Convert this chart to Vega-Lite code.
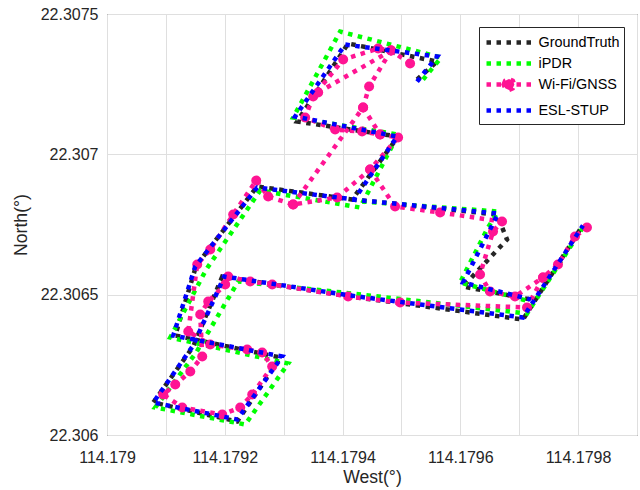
{
  "$schema": "https://vega.github.io/schema/vega-lite/v6.json",
  "width": 530,
  "height": 421,
  "padding": {"left": 107, "top": 14, "right": 3, "bottom": 55},
  "autosize": {"type": "none"},
  "background": "white",
  "config": {
    "view": {"stroke": "#262626", "strokeWidth": 1},
    "font": "Liberation Sans",
    "axis": {"labelFont": "Liberation Sans", "titleFont": "Liberation Sans", "labelColor": "#262626", "titleColor": "#262626", "titleFontWeight": "normal", "gridColor": "#dfdfdf", "ticks": false, "domain": false}
  },
  "data": {"values": [
    {"s":"GroundTruth","g":1,"i":1,"lon":114.1795266,"lat":22.3072665},
    {"s":"GroundTruth","g":1,"i":2,"lon":114.1795605,"lat":22.3073306},
    {"s":"GroundTruth","g":1,"i":3,"lon":114.1794095,"lat":22.3073947},
    {"s":"GroundTruth","g":1,"i":4,"lon":114.1793229,"lat":22.3071168},
    {"s":"GroundTruth","g":1,"i":5,"lon":114.1794943,"lat":22.3070634},
    {"s":"GroundTruth","g":1,"i":6,"lon":114.1794163,"lat":22.3068390},
    {"s":"GroundTruth","g":1,"i":7,"lon":114.1792550,"lat":22.3068853},
    {"s":"GroundTruth","g":1,"i":8,"lon":114.1791515,"lat":22.3066038},
    {"s":"GroundTruth","g":1,"i":9,"lon":114.1791159,"lat":22.3063545},
    {"s":"GroundTruth","g":1,"i":10,"lon":114.1792941,"lat":22.3062761},
    {"s":"GroundTruth","g":1,"i":11,"lon":114.1792211,"lat":22.3060481},
    {"s":"GroundTruth","g":1,"i":12,"lon":114.1790786,"lat":22.3061158},
    {"s":"GroundTruth","g":1,"i":13,"lon":114.1791464,"lat":22.3063153},
    {"s":"GroundTruth","g":1,"i":14,"lon":114.1791957,"lat":22.3065647},
    {"s":"GroundTruth","g":1,"i":15,"lon":114.1794129,"lat":22.3064934},
    {"s":"GroundTruth","g":1,"i":16,"lon":114.1797064,"lat":22.3064115},
    {"s":"GroundTruth","g":1,"i":17,"lon":114.1798065,"lat":22.3067428},
    {"s":"GroundTruth","g":2,"i":1,"lon":114.1794163,"lat":22.3068390},
    {"s":"GroundTruth","g":2,"i":2,"lon":114.1796623,"lat":22.3067855},
    {"s":"GroundTruth","g":2,"i":3,"lon":114.1796793,"lat":22.3066965},
    {"s":"GroundTruth","g":2,"i":4,"lon":114.1796046,"lat":22.3065290},
    {"s":"GroundTruth","g":2,"i":5,"lon":114.1797200,"lat":22.3064827},

    {"s":"iPDR","g":1,"i":1,"lon":114.1795367,"lat":22.3072665},
    {"s":"iPDR","g":1,"i":2,"lon":114.1795673,"lat":22.3073448},
    {"s":"iPDR","g":1,"i":3,"lon":114.1793959,"lat":22.3074375},
    {"s":"iPDR","g":1,"i":4,"lon":114.1793161,"lat":22.3071311},
    {"s":"iPDR","g":1,"i":5,"lon":114.1794943,"lat":22.3070705},
    {"s":"iPDR","g":1,"i":6,"lon":114.1794298,"lat":22.3068105},
    {"s":"iPDR","g":1,"i":7,"lon":114.1792601,"lat":22.3068710},
    {"s":"iPDR","g":1,"i":8,"lon":114.1791685,"lat":22.3065896},
    {"s":"iPDR","g":1,"i":9,"lon":114.1791074,"lat":22.3063473},
    {"s":"iPDR","g":1,"i":10,"lon":114.1793077,"lat":22.3062547},
    {"s":"iPDR","g":1,"i":11,"lon":114.1792347,"lat":22.3060374},
    {"s":"iPDR","g":1,"i":12,"lon":114.1790820,"lat":22.3060980},
    {"s":"iPDR","g":1,"i":13,"lon":114.1791515,"lat":22.3062939},
    {"s":"iPDR","g":1,"i":14,"lon":114.1792228,"lat":22.3065468},
    {"s":"iPDR","g":1,"i":15,"lon":114.1794163,"lat":22.3065041},
    {"s":"iPDR","g":1,"i":16,"lon":114.1797132,"lat":22.3064328},
    {"s":"iPDR","g":1,"i":17,"lon":114.1798116,"lat":22.3067499},
    {"s":"iPDR","g":2,"i":1,"lon":114.1794332,"lat":22.3068318},
    {"s":"iPDR","g":2,"i":2,"lon":114.1796640,"lat":22.3067962},
    {"s":"iPDR","g":2,"i":3,"lon":114.1796470,"lat":22.3067392},
    {"s":"iPDR","g":2,"i":4,"lon":114.1795995,"lat":22.3065433},
    {"s":"iPDR","g":2,"i":5,"lon":114.1797183,"lat":22.3064756},

    {"s":"Wi-Fi/GNSS","g":1,"i":1,"lon":114.1795147,"lat":22.3073235},
    {"s":"Wi-Fi/GNSS","g":1,"i":2,"lon":114.1794824,"lat":22.3073698},
    {"s":"Wi-Fi/GNSS","g":1,"i":3,"lon":114.1794604,"lat":22.3073769},
    {"s":"Wi-Fi/GNSS","g":1,"i":4,"lon":114.1794010,"lat":22.3073377},
    {"s":"Wi-Fi/GNSS","g":1,"i":5,"lon":114.1793501,"lat":22.3072059},
    {"s":"Wi-Fi/GNSS","g":1,"i":6,"lon":114.1793365,"lat":22.3071311},
    {"s":"Wi-Fi/GNSS","g":1,"i":7,"lon":114.1793874,"lat":22.3070883},
    {"s":"Wi-Fi/GNSS","g":1,"i":8,"lon":114.1794332,"lat":22.3070812},
    {"s":"Wi-Fi/GNSS","g":1,"i":9,"lon":114.1794638,"lat":22.3070705},
    {"s":"Wi-Fi/GNSS","g":1,"i":10,"lon":114.1794943,"lat":22.3070598},
    {"s":"Wi-Fi/GNSS","g":1,"i":11,"lon":114.1794468,"lat":22.3069458},
    {"s":"Wi-Fi/GNSS","g":1,"i":12,"lon":114.1793908,"lat":22.3068461},
    {"s":"Wi-Fi/GNSS","g":1,"i":13,"lon":114.1793161,"lat":22.3068212},
    {"s":"Wi-Fi/GNSS","g":1,"i":14,"lon":114.1792737,"lat":22.3068497},
    {"s":"Wi-Fi/GNSS","g":1,"i":15,"lon":114.1792534,"lat":22.3069067},
    {"s":"Wi-Fi/GNSS","g":1,"i":16,"lon":114.1792143,"lat":22.3067855},
    {"s":"Wi-Fi/GNSS","g":1,"i":17,"lon":114.1791753,"lat":22.3066608},
    {"s":"Wi-Fi/GNSS","g":1,"i":18,"lon":114.1791532,"lat":22.3066074},
    {"s":"Wi-Fi/GNSS","g":1,"i":19,"lon":114.1791380,"lat":22.3063687},
    {"s":"Wi-Fi/GNSS","g":1,"i":20,"lon":114.1791753,"lat":22.3063224},
    {"s":"Wi-Fi/GNSS","g":1,"i":21,"lon":114.1792381,"lat":22.3063046},
    {"s":"Wi-Fi/GNSS","g":1,"i":22,"lon":114.1792635,"lat":22.3062939},
    {"s":"Wi-Fi/GNSS","g":1,"i":23,"lon":114.1792805,"lat":22.3062440},
    {"s":"Wi-Fi/GNSS","g":1,"i":24,"lon":114.1792466,"lat":22.3061443},
    {"s":"Wi-Fi/GNSS","g":1,"i":25,"lon":114.1792262,"lat":22.3060980},
    {"s":"Wi-Fi/GNSS","g":1,"i":26,"lon":114.1791957,"lat":22.3060730},
    {"s":"Wi-Fi/GNSS","g":1,"i":27,"lon":114.1791278,"lat":22.3060980},
    {"s":"Wi-Fi/GNSS","g":1,"i":28,"lon":114.1790955,"lat":22.3061443},
    {"s":"Wi-Fi/GNSS","g":1,"i":29,"lon":114.1791159,"lat":22.3061799},
    {"s":"Wi-Fi/GNSS","g":1,"i":30,"lon":114.1791414,"lat":22.3062262},
    {"s":"Wi-Fi/GNSS","g":1,"i":31,"lon":114.1791617,"lat":22.3062797},
    {"s":"Wi-Fi/GNSS","g":1,"i":32,"lon":114.1791583,"lat":22.3064293},
    {"s":"Wi-Fi/GNSS","g":1,"i":33,"lon":114.1791719,"lat":22.3064756},
    {"s":"Wi-Fi/GNSS","g":1,"i":34,"lon":114.1792007,"lat":22.3065362},
    {"s":"Wi-Fi/GNSS","g":1,"i":35,"lon":114.1792058,"lat":22.3065647},
    {"s":"Wi-Fi/GNSS","g":1,"i":36,"lon":114.1792432,"lat":22.3065468},
    {"s":"Wi-Fi/GNSS","g":1,"i":37,"lon":114.1792805,"lat":22.3065362},
    {"s":"Wi-Fi/GNSS","g":1,"i":38,"lon":114.1794095,"lat":22.3064934},
    {"s":"Wi-Fi/GNSS","g":1,"i":39,"lon":114.1794977,"lat":22.3064720},
    {"s":"Wi-Fi/GNSS","g":1,"i":40,"lon":114.1797132,"lat":22.3064542},
    {"s":"Wi-Fi/GNSS","g":1,"i":41,"lon":114.1797404,"lat":22.3065611},
    {"s":"Wi-Fi/GNSS","g":1,"i":42,"lon":114.1797658,"lat":22.3066074},
    {"s":"Wi-Fi/GNSS","g":1,"i":43,"lon":114.1797947,"lat":22.3067072},
    {"s":"Wi-Fi/GNSS","g":1,"i":44,"lon":114.1798150,"lat":22.3067392},
    {"s":"Wi-Fi/GNSS","g":2,"i":1,"lon":114.1794468,"lat":22.3069458},
    {"s":"Wi-Fi/GNSS","g":2,"i":2,"lon":114.1794892,"lat":22.3068140},
    {"s":"Wi-Fi/GNSS","g":2,"i":3,"lon":114.1795656,"lat":22.3067927},
    {"s":"Wi-Fi/GNSS","g":2,"i":4,"lon":114.1796708,"lat":22.3067606},
    {"s":"Wi-Fi/GNSS","g":2,"i":5,"lon":114.1796555,"lat":22.3067250},
    {"s":"Wi-Fi/GNSS","g":2,"i":6,"lon":114.1796335,"lat":22.3065718},
    {"s":"Wi-Fi/GNSS","g":2,"i":7,"lon":114.1796504,"lat":22.3065112},
    {"s":"Wi-Fi/GNSS","g":2,"i":8,"lon":114.1796929,"lat":22.3064934},
    {"s":"Wi-Fi/GNSS","g":2,"i":9,"lon":114.1797404,"lat":22.3065611},
    {"s":"Wi-Fi/GNSS","g":3,"i":1,"lon":114.1793586,"lat":22.3072202},
    {"s":"Wi-Fi/GNSS","g":3,"i":2,"lon":114.1794824,"lat":22.3073698},
    {"s":"Wi-Fi/GNSS","g":4,"i":1,"lon":114.1794824,"lat":22.3073698},
    {"s":"Wi-Fi/GNSS","g":4,"i":2,"lon":114.1794451,"lat":22.3072415},
    {"s":"Wi-Fi/GNSS","g":4,"i":3,"lon":114.1794349,"lat":22.3071667},
    {"s":"Wi-Fi/GNSS","g":4,"i":4,"lon":114.1793161,"lat":22.3068212},
    {"s":"Wi-Fi/GNSS","g":5,"i":1,"lon":114.1794349,"lat":22.3071667},
    {"s":"Wi-Fi/GNSS","g":5,"i":2,"lon":114.1794638,"lat":22.3070705},

    {"s":"ESL-STUP","g":1,"i":1,"lon":114.1795266,"lat":22.3072593},
    {"s":"ESL-STUP","g":1,"i":2,"lon":114.1795605,"lat":22.3073484},
    {"s":"ESL-STUP","g":1,"i":3,"lon":114.1794044,"lat":22.3073912},
    {"s":"ESL-STUP","g":1,"i":4,"lon":114.1793195,"lat":22.3071347},
    {"s":"ESL-STUP","g":1,"i":5,"lon":114.1794926,"lat":22.3070634},
    {"s":"ESL-STUP","g":1,"i":6,"lon":114.1794196,"lat":22.3068390},
    {"s":"ESL-STUP","g":1,"i":7,"lon":114.1792550,"lat":22.3068817},
    {"s":"ESL-STUP","g":1,"i":8,"lon":114.1791498,"lat":22.3066003},
    {"s":"ESL-STUP","g":1,"i":9,"lon":114.1791125,"lat":22.3063545},
    {"s":"ESL-STUP","g":1,"i":10,"lon":114.1792975,"lat":22.3062797},
    {"s":"ESL-STUP","g":1,"i":11,"lon":114.1792211,"lat":22.3060552},
    {"s":"ESL-STUP","g":1,"i":12,"lon":114.1790786,"lat":22.3061158},
    {"s":"ESL-STUP","g":1,"i":13,"lon":114.1791464,"lat":22.3063188},
    {"s":"ESL-STUP","g":1,"i":14,"lon":114.1791991,"lat":22.3065647},
    {"s":"ESL-STUP","g":1,"i":15,"lon":114.1794129,"lat":22.3064970},
    {"s":"ESL-STUP","g":1,"i":16,"lon":114.1797064,"lat":22.3064186},
    {"s":"ESL-STUP","g":1,"i":17,"lon":114.1798082,"lat":22.3067463},
    {"s":"ESL-STUP","g":2,"i":1,"lon":114.1794163,"lat":22.3068390},
    {"s":"ESL-STUP","g":2,"i":2,"lon":114.1796640,"lat":22.3067891},
    {"s":"ESL-STUP","g":2,"i":3,"lon":114.1796504,"lat":22.3067321},
    {"s":"ESL-STUP","g":2,"i":4,"lon":114.1796046,"lat":22.3065433},
    {"s":"ESL-STUP","g":2,"i":5,"lon":114.1797200,"lat":22.3064827}
  ]},
  "encoding": {
    "x": {"field": "lon", "type": "quantitative", "title": "West(°)",
      "scale": {"domain": [114.179, 114.1799], "nice": false, "zero": false},
      "axis": {"values": [114.179, 114.1791, 114.1792, 114.1793, 114.1794, 114.1795, 114.1796, 114.1797, 114.1798, 114.1799],
        "labelExpr": "round(datum.value * 10000) % 2 == 0 ? format(datum.value, '.4~f') : ''",
        "labelFontSize": 16, "titleFontSize": 17.6, "labelPadding": 14, "titlePadding": 3, "labelFlush": false, "labelOverlap": false}},
    "y": {"field": "lat", "type": "quantitative", "title": "North(°)",
      "scale": {"domain": [22.306, 22.3075], "nice": false, "zero": false},
      "axis": {"values": [22.306, 22.3065, 22.307, 22.3075], "format": ".4~f", "labelFontSize": 16, "titleFontSize": 17.6, "labelPadding": 9, "titlePadding": 10, "labelFlush": false, "labelOverlap": false}},
    "color": {"field": "s", "type": "nominal",
      "scale": {"domain": ["GroundTruth", "iPDR", "Wi-Fi/GNSS", "ESL-STUP"], "range": ["#262626", "#00ff00", "#ff1493", "#0000ff"]},
      "legend": {"title": null, "orient": "top-right", "offset": 13, "symbolType": "M-2.5,0H2.5", "symbolSize": 324, "symbolStrokeWidth": 4.5, "symbolDash": [4.5, 5.5], "labelFontSize": 14.4, "labelFont": "Liberation Sans", "labelColor": "#000000", "strokeColor": "#262626", "fillColor": "white", "padding": 4, "symbolOffset": 14.5, "labelOffset": 18, "rowPadding": -4.5,
        "encode": {"symbols": {"update": {
          "shape": {"signal": "datum.value === 'Wi-Fi/GNSS' ? 'M-2.5,0H2.5M-0.6,0L-0.42,-0.42L0,-0.6L0.42,-0.42L0.6,0L0.42,0.42L0,0.6L-0.42,0.42Z' : 'M-2.5,0H2.5'"},
          "fill": {"signal": "datum.value === 'Wi-Fi/GNSS' ? '#ff1493' : 'transparent'"}}}}}}
  },
  "layer": [
    {
      "transform": [{"filter": "datum.s === 'GroundTruth'"}],
      "mark": {"type": "line", "strokeWidth": 4.5, "strokeDash": [4.5, 5.5], "strokeCap": "butt"},
      "encoding": {"detail": {"field": "g"}, "order": {"field": "i", "type": "quantitative"}}
    },
    {
      "transform": [{"filter": "datum.s === 'iPDR'"}],
      "mark": {"type": "line", "strokeWidth": 4.5, "strokeDash": [4.5, 5.5], "strokeCap": "butt"},
      "encoding": {"detail": {"field": "g"}, "order": {"field": "i", "type": "quantitative"}}
    },
    {
      "transform": [{"filter": "datum.s === 'Wi-Fi/GNSS'"}],
      "mark": {"type": "line", "strokeWidth": 4.5, "strokeDash": [4.5, 5.5], "strokeCap": "butt"},
      "encoding": {"detail": {"field": "g"}, "order": {"field": "i", "type": "quantitative"}}
    },
    {
      "transform": [{"filter": "datum.s === 'Wi-Fi/GNSS'"}],
      "mark": {"type": "point", "shape": "circle", "filled": true, "opacity": 1, "size": 100},
      "encoding": {}
    },
    {
      "transform": [{"filter": "datum.s === 'ESL-STUP'"}],
      "mark": {"type": "line", "strokeWidth": 4.5, "strokeDash": [4.5, 5.5], "strokeCap": "butt"},
      "encoding": {"detail": {"field": "g"}, "order": {"field": "i", "type": "quantitative"}}
    }
  ]
}
